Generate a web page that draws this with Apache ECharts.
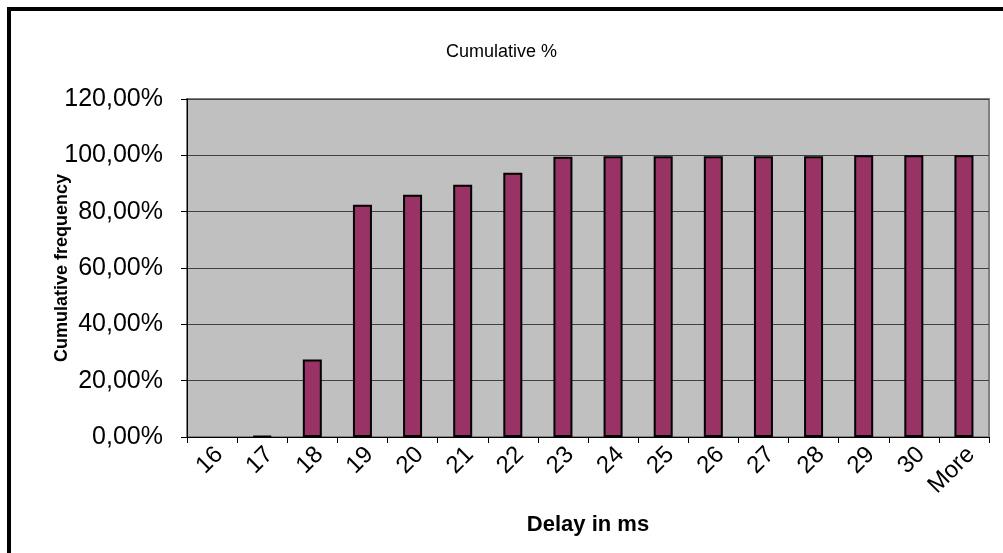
<!DOCTYPE html>
<html>
<head>
<meta charset="utf-8">
<script src="https://cdn.jsdelivr.net/npm/echarts@6/dist/echarts.min.js"></script>
<style>
  html, body { margin: 0; padding: 0; background: #fff; overflow: hidden; }
  #chart { position: absolute; left: 0; top: 0; width: 1003px; height: 553px; }
  #frame { position: absolute; left: 7px; top: 7px; width: 1100px; height: 700px;
           border: 4px solid #000; pointer-events: none; }
</style>
</head>
<body>
<div id="chart"></div>
<div id="frame"></div>
<script>
// Delay bins (ms) and cumulative frequency per bin, in percent
const delayBins = ['16', '17', '18', '19', '20', '21', '22', '23', '24', '25', '26', '27', '28', '29', '30', 'More'];
const cumulativePct = [0, 0.3, 27.5, 82.5, 86.0, 89.6, 93.8, 99.5, 99.7, 99.7, 99.7, 99.7, 99.7, 100, 100, 100];
const yTicks = [0, 20, 40, 60, 80, 100, 120];

const font = 'Arial, "Liberation Sans", sans-serif';
const fmtPct = v => v.toFixed(2).replace('.', ',') + '%';

// empty bins get no outline, so nothing is drawn for them
const barData = cumulativePct.map(v => v > 0 ? v : { value: v, itemStyle: { borderWidth: 0 } });

const chart = echarts.init(document.getElementById('chart'), null, { renderer: 'canvas' });
chart.setOption({
  animation: false,
  backgroundColor: '#fff',
  title: {
    text: 'Cumulative %',
    left: 'center',
    top: 38,
    textStyle: { fontFamily: font, fontSize: 18, fontWeight: 'normal', color: '#000' }
  },
  grid: {
    left: 187, right: 14, top: 99, bottom: 116,
    show: true, backgroundColor: '#c0c0c0', borderColor: '#808080', borderWidth: 2
  },
  xAxis: {
    type: 'category',
    data: delayBins,
    name: 'Delay in ms',
    nameLocation: 'middle',
    nameGap: 77,
    nameMoveOverlap: false,
    nameTextStyle: { fontFamily: font, fontSize: 22, fontWeight: 'bold', color: '#000' },
    axisLine: { lineStyle: { color: '#000', width: 1 } },
    axisTick: { show: true, alignWithLabel: false, length: 6, lineStyle: { color: '#000' } },
    axisLabel: {
      rotate: 45, margin: 21, fontFamily: font, fontSize: 24, color: '#000', interval: 0,
      padding: [0, -10, 0, 0]
    },
    splitLine: { show: false }
  },
  yAxis: {
    type: 'value',
    min: yTicks[0],
    max: yTicks[yTicks.length - 1],
    interval: yTicks[1] - yTicks[0],
    name: 'Cumulative frequency',
    nameLocation: 'middle',
    nameGap: 116,
    nameRotate: 90,
    nameMoveOverlap: false,
    nameTextStyle: { fontFamily: font, fontSize: 18, fontWeight: 'bold', color: '#000' },
    axisLine: { show: true, lineStyle: { color: '#000', width: 1 } },
    axisTick: { show: true, length: 6, lineStyle: { color: '#000' } },
    axisLabel: { margin: 24, fontFamily: font, fontSize: 25, color: '#000', formatter: fmtPct },
    splitLine: { show: true, lineStyle: { color: '#404040', width: 1 } }
  },
  series: [{
    type: 'bar',
    data: barData,
    barWidth: 19,
    itemStyle: { color: '#993366', borderColor: '#000', borderWidth: 2 }
  }]
});
</script>
</body>
</html>
